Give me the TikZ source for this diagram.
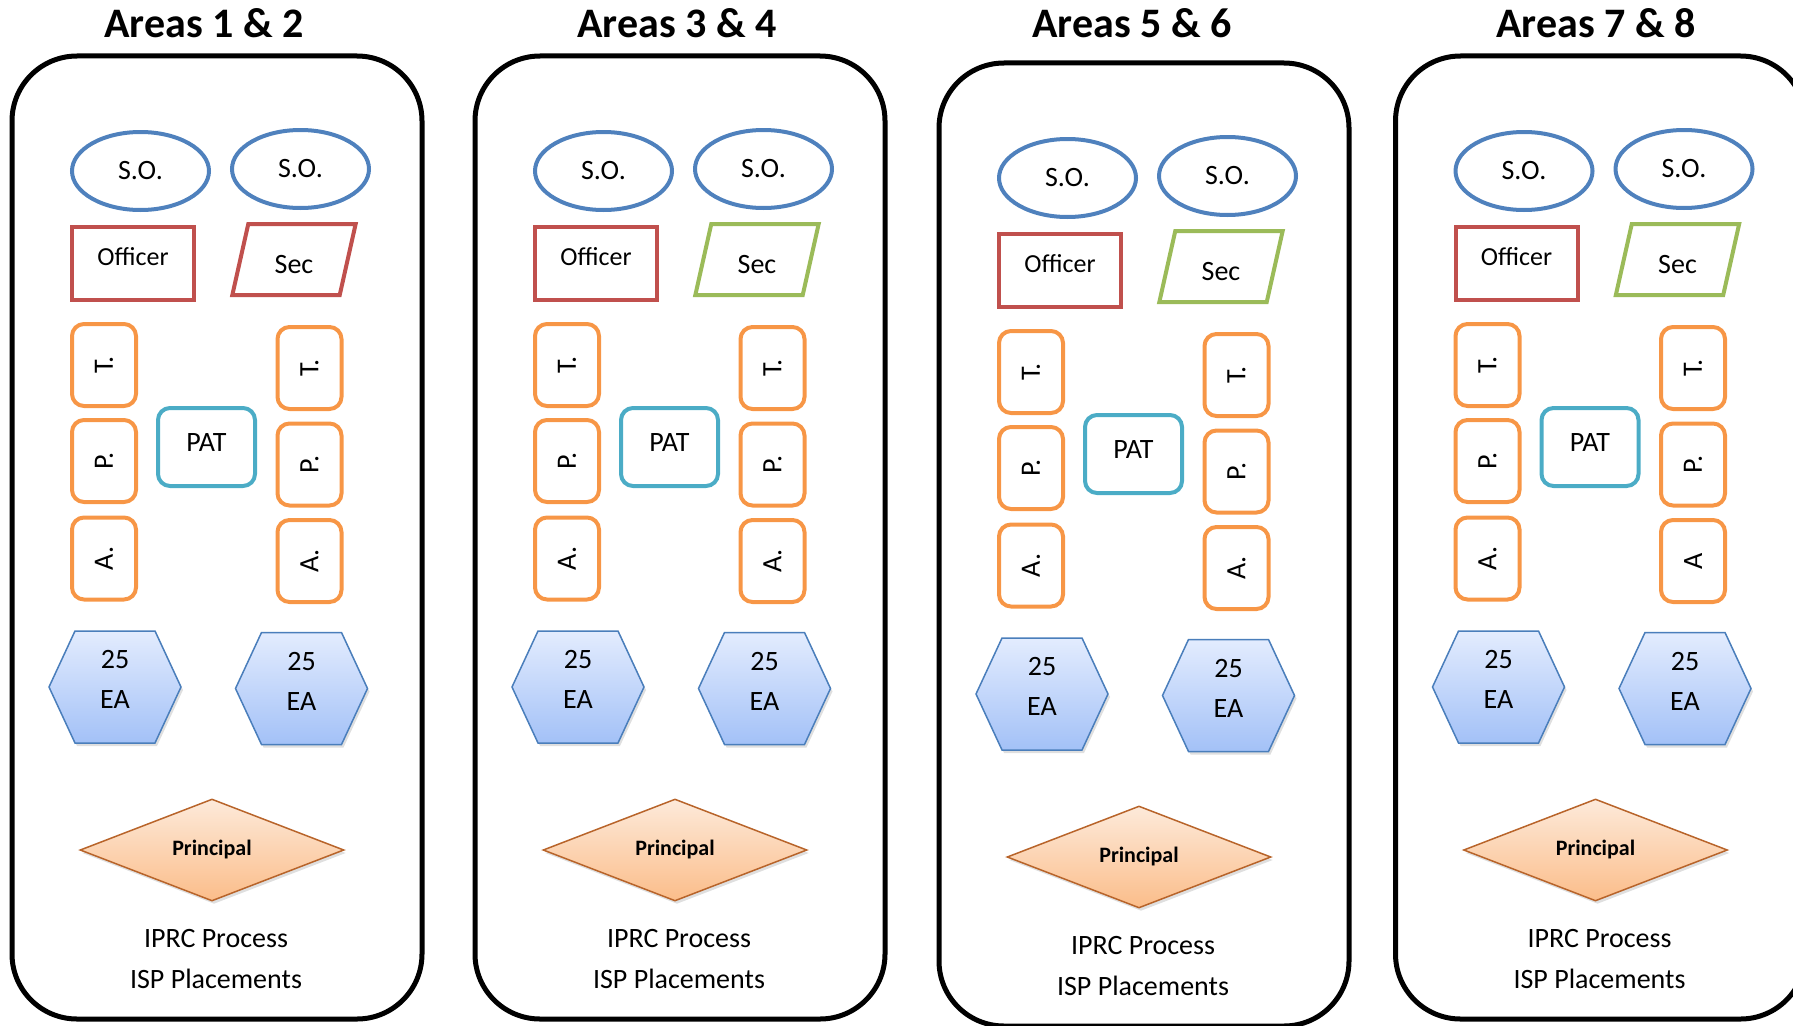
\documentclass[tikz,border=0pt]{standalone}
\usepackage{fontspec}
\setmainfont{Carlito}
\usetikzlibrary{shapes.geometric,shadows}

\definecolor{soblue}{HTML}{4F81BD}
\definecolor{offred}{HTML}{C0504D}
\definecolor{secgreen}{HTML}{9BBB59}
\definecolor{tpaorange}{HTML}{F79646}
\definecolor{patcyan}{HTML}{4BACC6}
\definecolor{hexedge}{HTML}{4A7EBB}
\definecolor{hextop}{HTML}{E3ECFE}
\definecolor{hexbot}{HTML}{A3C1F7}
\definecolor{diaedge}{HTML}{B8642A}
\definecolor{diatop}{HTML}{FDEADA}
\definecolor{diabot}{HTML}{FBBD8A}

\begin{document}
\begin{tikzpicture}[x=1pt, y=-1pt,
areabox/.style={draw=black, line width=5pt, rounded corners=65pt},
areatitle/.style={anchor=base, font=\bfseries\fontsize{42}{50}\selectfont},
sonode/.style={ellipse, draw=soblue, line width=4pt, minimum width=137pt, minimum height=78pt, inner sep=0pt, font=\fontsize{28}{34}\selectfont},
offbox/.style={rectangle, draw=offred, line width=4pt, minimum width=122pt, minimum height=73pt, inner sep=0pt, text height=20pt, text depth=17pt, font=\fontsize{26}{32}\selectfont},
secbox/.style={trapezium, trapezium left angle=76, trapezium right angle=104, trapezium stretches=true, draw=secgreen, line width=4pt, minimum width=124pt, minimum height=71pt, inner sep=0pt, text height=27pt, text depth=0pt, font=\fontsize{28}{34}\selectfont},
tpabox/.style={rectangle, rounded corners=12pt, draw=tpaorange, line width=4pt, minimum width=82pt, minimum height=64pt, inner sep=0pt, rotate=90, font=\fontsize{28}{34}\selectfont},
patbox/.style={rectangle, rounded corners=12pt, draw=patcyan, line width=4pt, minimum width=97pt, minimum height=78pt, inner sep=0pt, text height=20pt, text depth=12pt, font=\fontsize{28}{34}\selectfont},
eahex/.style={draw=hexedge, line width=1.5pt, top color=hextop, bottom color=hexbot, drop shadow={opacity=0.25, shadow xshift=2pt, shadow yshift=-3pt}},
eatext/.style={align=center, inner sep=0pt, font=\fontsize{28}{40}\selectfont},
prinnode/.style={diamond, draw=diaedge, line width=1.5pt, minimum width=264pt, minimum height=102pt, inner sep=0pt, top color=diatop, bottom color=diabot, drop shadow={opacity=0.25, shadow xshift=2pt, shadow yshift=-3pt}, font=\bfseries\fontsize{22}{26}\selectfont},
listtext/.style={anchor=base, font=\fontsize{28}{34}\selectfont}]

  \useasboundingbox (0,0) rectangle (1793,1025);

  % headings
  \node[areatitle] (title1) at (204,38) {Areas 1 \& 2};
  \node[areatitle] (title2) at (677,38) {Areas 3 \& 4};
  \node[areatitle] (title3) at (1132,38) {Areas 5 \& 6};
  \node[areatitle] (title4) at (1596,38) {Areas 7 \& 8};

  % areas 1 & 2
  \begin{scope}
    \draw[areabox] (12,56) rectangle (422,1019);
    \node[sonode] (so1a) at (140.5,171) {S.O.};
    \node[sonode] (so1b) at (300.5,169) {S.O.};
    \node[offbox] (off1) at (133,263.5) {Officer};
    \node[secbox, draw=offred] (sec1) at (294,259.5) {Sec};
    \node[tpabox] (t1a) at (104,365) {T.};
    \node[tpabox] (p1a) at (104,461) {P.};
    \node[tpabox] (a1a) at (104,558.5) {A.};
    \node[tpabox] (t1b) at (309.5,368) {T.};
    \node[tpabox] (p1b) at (309.5,464.5) {P.};
    \node[tpabox] (a1b) at (309.5,561) {A.};
    \node[patbox] (pat1) at (206.5,447) {PAT};
    \draw[eahex, shift={(115,687)}] (-66,0) -- (-40,-56) -- (40,-56) -- (66,0) -- (40,56) -- (-40,56) -- cycle;
    \draw[eahex, shift={(301.5,688.5)}] (-66,0) -- (-40,-56) -- (40,-56) -- (66,0) -- (40,56) -- (-40,56) -- cycle;
    \node[eatext] (ea1a) at (115,679) {25\\EA};
    \node[eatext] (ea1b) at (301.5,681) {25\\EA};
    \node[prinnode] (prin1) at (212,850) {Principal};
    \node[listtext] (iprc1) at (216,947) {IPRC Process};
    \node[listtext] (isp1) at (216,988) {ISP Placements};
  \end{scope}

  % areas 3 & 4
  \begin{scope}[shift={(463,0)}]
    \draw[areabox] (12,56) rectangle (422,1019);
    \node[sonode] (so2a) at (140.5,171) {S.O.};
    \node[sonode] (so2b) at (300.5,169) {S.O.};
    \node[offbox] (off2) at (133,263.5) {Officer};
    \node[secbox] (sec2) at (294,259.5) {Sec};
    \node[tpabox] (t2a) at (104,365) {T.};
    \node[tpabox] (p2a) at (104,461) {P.};
    \node[tpabox] (a2a) at (104,558.5) {A.};
    \node[tpabox] (t2b) at (309.5,368) {T.};
    \node[tpabox] (p2b) at (309.5,464.5) {P.};
    \node[tpabox] (a2b) at (309.5,561) {A.};
    \node[patbox] (pat2) at (206.5,447) {PAT};
    \draw[eahex, shift={(115,687)}] (-66,0) -- (-40,-56) -- (40,-56) -- (66,0) -- (40,56) -- (-40,56) -- cycle;
    \draw[eahex, shift={(301.5,688.5)}] (-66,0) -- (-40,-56) -- (40,-56) -- (66,0) -- (40,56) -- (-40,56) -- cycle;
    \node[eatext] (ea2a) at (115,679) {25\\EA};
    \node[eatext] (ea2b) at (301.5,681) {25\\EA};
    \node[prinnode] (prin2) at (212,850) {Principal};
    \node[listtext] (iprc2) at (216,947) {IPRC Process};
    \node[listtext] (isp2) at (216,988) {ISP Placements};
  \end{scope}

  % areas 5 & 6
  \begin{scope}[shift={(927,7)}]
    \draw[areabox] (12,56) rectangle (422,1019);
    \node[sonode] (so3a) at (140.5,171) {S.O.};
    \node[sonode] (so3b) at (300.5,169) {S.O.};
    \node[offbox] (off3) at (133,263.5) {Officer};
    \node[secbox] (sec3) at (294,259.5) {Sec};
    \node[tpabox] (t3a) at (104,365) {T.};
    \node[tpabox] (p3a) at (104,461) {P.};
    \node[tpabox] (a3a) at (104,558.5) {A.};
    \node[tpabox] (t3b) at (309.5,368) {T.};
    \node[tpabox] (p3b) at (309.5,464.5) {P.};
    \node[tpabox] (a3b) at (309.5,561) {A.};
    \node[patbox] (pat3) at (206.5,447) {PAT};
    \draw[eahex, shift={(115,687)}] (-66,0) -- (-40,-56) -- (40,-56) -- (66,0) -- (40,56) -- (-40,56) -- cycle;
    \draw[eahex, shift={(301.5,688.5)}] (-66,0) -- (-40,-56) -- (40,-56) -- (66,0) -- (40,56) -- (-40,56) -- cycle;
    \node[eatext] (ea3a) at (115,679) {25\\EA};
    \node[eatext] (ea3b) at (301.5,681) {25\\EA};
    \node[prinnode] (prin3) at (212,850) {Principal};
    \node[listtext] (iprc3) at (216,947) {IPRC Process};
    \node[listtext] (isp3) at (216,988) {ISP Placements};
  \end{scope}

  % areas 7 & 8
  \begin{scope}[shift={(1383.5,0)}]
    \draw[areabox] (12,56) rectangle (422,1019);
    \node[sonode] (so4a) at (140.5,171) {S.O.};
    \node[sonode] (so4b) at (300.5,169) {S.O.};
    \node[offbox] (off4) at (133,263.5) {Officer};
    \node[secbox] (sec4) at (294,259.5) {Sec};
    \node[tpabox] (t4a) at (104,365) {T.};
    \node[tpabox] (p4a) at (104,461) {P.};
    \node[tpabox] (a4a) at (104,558.5) {A.};
    \node[tpabox] (t4b) at (309.5,368) {T.};
    \node[tpabox] (p4b) at (309.5,464.5) {P.};
    \node[tpabox] (a4b) at (309.5,561) {A};
    \node[patbox] (pat4) at (206.5,447) {PAT};
    \draw[eahex, shift={(115,687)}] (-66,0) -- (-40,-56) -- (40,-56) -- (66,0) -- (40,56) -- (-40,56) -- cycle;
    \draw[eahex, shift={(301.5,688.5)}] (-66,0) -- (-40,-56) -- (40,-56) -- (66,0) -- (40,56) -- (-40,56) -- cycle;
    \node[eatext] (ea4a) at (115,679) {25\\EA};
    \node[eatext] (ea4b) at (301.5,681) {25\\EA};
    \node[prinnode] (prin4) at (212,850) {Principal};
    \node[listtext] (iprc4) at (216,947) {IPRC Process};
    \node[listtext] (isp4) at (216,988) {ISP Placements};
  \end{scope}

\end{tikzpicture}
\end{document}
